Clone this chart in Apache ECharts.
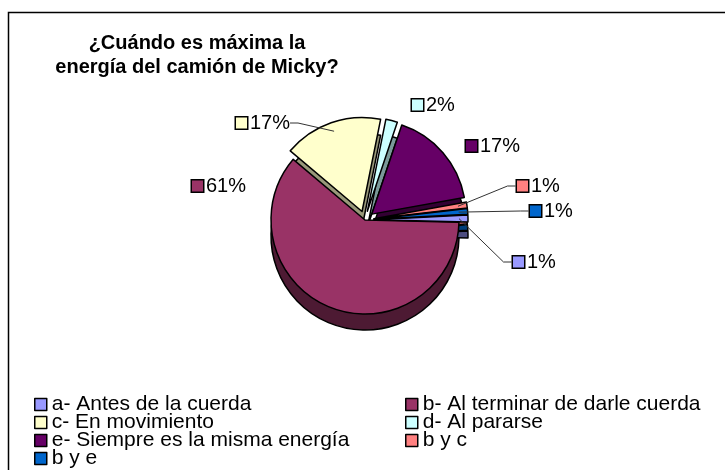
<!DOCTYPE html>
<html>
<head>
<meta charset="utf-8">
<script src="https://cdn.jsdelivr.net/npm/echarts@6/dist/echarts.min.js"></script>
<style>
  html, body { margin: 0; padding: 0; background: #fff; }
  #main { width: 725px; height: 470px; }
</style>
</head>
<body>
<div id="main"></div>
<script>
// respuestas de la encuesta
var names = ['a- Antes de la cuerda', 'b- Al terminar de darle cuerda', 'c- En movimiento',
             'd- Al pararse', 'e- Siempre es la misma energía', 'b y c', 'b y e']
var values = [1.2, 60.8, 17.0, 2.0, 17.0, 1.0, 1.0]
var colors = ['#9999ff', '#993366', '#ffffcc', '#ccffff', '#660066', '#ff8080', '#0066cc']
var sideColors = ['#4d4d80', '#4d1a33', '#99997a', '#7a9999', '#330033', '#994d4d', '#003d7a']
var exploded = [true, false, true, true, true, true, true]
var showLine = [true, false, true, false, false, true, true]
// posicion de las etiquetas (borde izquierdo, centro vertical)
var labelPos = [[513, 262], [192, 186], [236, 123], [412, 105], [466, 146], [517, 186], [530, 211]]

var font = 'Arial, "Liberation Sans", sans-serif'
var rich = { v: { fontSize: 20, fontFamily: font, color: '#000', padding: [0, 0, 0, 3] } }
var topData = []
var sideData = []
var labelData = []
for (var i = 0; i < names.length; i++) {
    rich['k' + i] = { width: 11, height: 11, backgroundColor: colors[i], borderColor: '#000', borderWidth: 1.5 }
    topData.push({ name: names[i], value: values[i], selected: exploded[i], itemStyle: { color: colors[i] } })
    sideData.push({ name: names[i], value: values[i], selected: exploded[i], itemStyle: { color: sideColors[i] } })
    labelData.push({ name: names[i], value: values[i], labelLine: { show: showLine[i] } })
}

function legendCol(left, items) {
    return {
        left: left, top: 394, height: 90, padding: 0,
        orient: 'vertical',
        data: items,
        icon: 'rect', itemWidth: 12, itemHeight: 12, itemGap: -3,
        selectedMode: false,
        itemStyle: { borderColor: '#000', borderWidth: 1.5 },
        textStyle: { fontFamily: font, fontSize: 21, color: '#000' }
    }
}

var myChart = echarts.init(document.getElementById('main'))
var option = {
    backgroundColor: '#fff',
    animation: false,
    title: {
        text: '¿Cuándo es máxima la\nenergía del camión de Micky?',
        left: 197,
        top: 31,
        padding: 0,
        textAlign: 'center',
        textStyle: { fontFamily: font, fontSize: 20, fontWeight: 'bold', color: '#000', lineHeight: 24 }
    },
    graphic: [{
        type: 'rect',
        shape: { x: 8.5, y: 12.5, width: 800, height: 600 },
        style: { fill: null, stroke: '#000', lineWidth: 1.5 },
        silent: true
    }],
    legend: [
        legendCol(34, [names[0], names[2], names[4], names[6]]),
        legendCol(405, [names[1], names[3], names[5]])
    ],
    series: [{
        // cara superior
        type: 'pie',
        z: 3,
        silent: true,
        center: [365, 220],
        radius: 94,
        startAngle: 3,
        selectedMode: 'multiple',
        selectedOffset: 9,
        itemStyle: { borderColor: '#000', borderWidth: 1.5 },
        label: { show: false },
        labelLine: { show: false },
        data: topData
    }, {
        // lado (profundidad)
        type: 'pie',
        z: 1,
        silent: true,
        center: [365, 236],
        radius: 94,
        startAngle: 3,
        selectedMode: 'multiple',
        selectedOffset: 9,
        itemStyle: { borderColor: '#000', borderWidth: 1.5 },
        label: { show: false },
        labelLine: { show: false },
        data: sideData
    }, {
        // etiquetas
        type: 'pie',
        z: 4,
        silent: true,
        center: [365, 220],
        radius: 94,
        startAngle: 3,
        avoidLabelOverlap: false,
        itemStyle: { color: 'rgba(0,0,0,0)', borderWidth: 0 },
        label: {
            show: true,
            formatter: function (p) { return '{k' + p.dataIndex + '|}{v|' + Math.round(p.percent) + '%}' },
            rich: rich
        },
        labelLine: { length: 8, length2: 8, lineStyle: { color: '#333', width: 1 } },
        labelLayout: function (p) {
            var pos = labelPos[p.dataIndex]
            return { x: pos[0], y: pos[1], align: 'left', verticalAlign: 'middle' }
        },
        data: labelData
    }]
}
myChart.setOption(option)
</script>
</body>
</html>
